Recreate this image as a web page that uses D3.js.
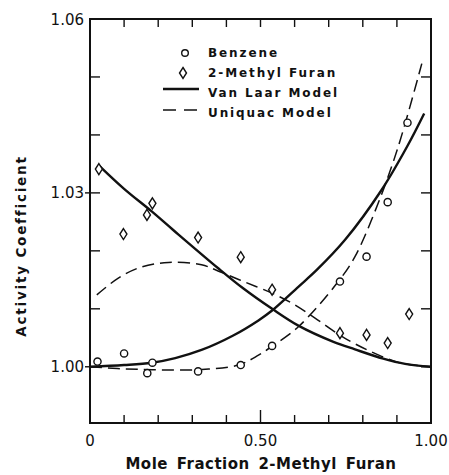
<!DOCTYPE html>
<html>
<head>
<meta charset="utf-8">
<script src="https://cdn.jsdelivr.net/npm/d3@7"></script>
<style>
  html, body { margin: 0; padding: 0; background: #fff; }
  svg { display: block; }
</style>
</head>
<body>
<svg id="chart" width="449" height="475"></svg>
<script>
// ---------- data ----------
const benzeneX = [0.022, 0.100, 0.168, 0.183, 0.317, 0.442, 0.534, 0.733, 0.811, 0.873, 0.931];
const benzeneY = [1.0009, 1.0023, 0.9989, 1.0007, 0.9992, 1.0003, 1.0036, 1.0147, 1.0190, 1.0284, 1.0421];

const furanX = [0.026, 0.098, 0.167, 0.183, 0.317, 0.442, 0.534, 0.733, 0.811, 0.873, 0.936];
const furanY = [1.0341, 1.0229, 1.0262, 1.0282, 1.0223, 1.0189, 1.0133, 1.0058, 1.0055, 1.0041, 1.0091];

// Van Laar model curves
const vlBenzeneX = [0.000, 0.100, 0.181, 0.250, 0.327, 0.420, 0.494, 0.534, 0.611, 0.665, 0.748, 0.855, 0.930, 0.980];
const vlBenzeneY = [1.0000, 1.0003, 1.0007, 1.0015, 1.0029, 1.0054, 1.0080, 1.0097, 1.0138, 1.0167, 1.0219, 1.0305, 1.0380, 1.0437];
const vlFuranX = [0.025, 0.100, 0.181, 0.244, 0.376, 0.450, 0.534, 0.611, 0.714, 0.777, 0.860, 0.924, 1.000];
const vlFuranY = [1.0348, 1.0307, 1.0268, 1.0236, 1.0170, 1.0135, 1.0100, 1.0071, 1.0043, 1.0030, 1.0014, 1.0005, 1.0000];

// UNIQUAC model curves
const uqBenzeneX = [0.000, 0.080, 0.181, 0.318, 0.435, 0.494, 0.533, 0.611, 0.728, 0.777, 0.845, 0.904, 0.973];
const uqBenzeneY = [1.0000, 0.9997, 0.9995, 0.9995, 1.0003, 1.0020, 1.0035, 1.0069, 1.0147, 1.0190, 1.0282, 1.0380, 1.0523];
const uqFuranX = [0.020, 0.083, 0.150, 0.230, 0.327, 0.381, 0.455, 0.534, 0.591, 0.660, 0.748, 0.855, 0.914, 1.000];
const uqFuranY = [1.0124, 1.0153, 1.0172, 1.0180, 1.0176, 1.0164, 1.0146, 1.0127, 1.0110, 1.0084, 1.0049, 1.0018, 1.0006, 1.0000];

const xTicks = [0.1, 0.2, 0.3, 0.4, 0.5, 0.6, 0.7, 0.8, 0.9];
const xTickLabels = [{v: 0, t: "0"}, {v: 0.5, t: "0.50"}, {v: 1.0, t: "1.00"}];
const yTicks = [1.00, 1.01, 1.02, 1.03, 1.04, 1.05];
const yTickLabels = [{v: 1.00, t: "1.00"}, {v: 1.03, t: "1.03"}, {v: 1.06, t: "1.06"}];
const legendLabels = ["Benzene", "2-Methyl Furan", "Van Laar Model", "Uniquac Model"];
const xTitle = "Mole Fraction 2-Methyl Furan";
const yTitle = "Activity Coefficient";
const xDomain = [0, 1];
const yDomain = [0.9903, 1.06];

// ---------- layout ----------
const L = 90, R = 431, T = 19, B = 423;
const svg = d3.select("#chart");
const x = d3.scaleLinear().domain(xDomain).range([L, R]);
const y = d3.scaleLinear().domain(yDomain).range([B, T]);
const ink = "#111";
const fontFam = "'DejaVu Sans', sans-serif";

// frame
svg.append("rect").attr("x", L).attr("y", T).attr("width", R - L).attr("height", B - T)
  .attr("fill", "none").attr("stroke", ink).attr("stroke-width", 2);

// x ticks (inward) bottom and top
const gx = svg.append("g");
gx.selectAll("line.b").data(xTicks).join("line")
  .attr("x1", d => x(d)).attr("x2", d => x(d))
  .attr("y1", B).attr("y2", d => B - (Math.abs(d - 0.5) < 1e-9 ? 13 : 8))
  .attr("stroke", ink).attr("stroke-width", 1.4);
gx.selectAll("line.t").data(xTicks).join("line")
  .attr("x1", d => x(d)).attr("x2", d => x(d))
  .attr("y1", T).attr("y2", T + 8)
  .attr("stroke", ink).attr("stroke-width", 1.4);

// y ticks left and right (inward)
const gy = svg.append("g");
gy.selectAll("line.l").data(yTicks).join("line")
  .attr("x1", d => (yTickLabels.some(l => Math.abs(l.v - d) < 1e-9) ? L - 5 : L)).attr("x2", L + 10)
  .attr("y1", d => y(d)).attr("y2", d => y(d))
  .attr("stroke", ink).attr("stroke-width", 1.4);
gy.selectAll("line.r").data(yTicks).join("line")
  .attr("x1", R).attr("x2", R - 10)
  .attr("y1", d => y(d)).attr("y2", d => y(d))
  .attr("stroke", ink).attr("stroke-width", 1.4);

// tick labels
svg.append("g").selectAll("text").data(xTickLabels).join("text")
  .attr("x", d => x(d.v)).attr("y", 446)
  .attr("text-anchor", "middle")
  .attr("font-family", fontFam).attr("font-size", 15).attr("fill", ink)
  .text(d => d.t);
svg.append("g").selectAll("text").data(yTickLabels).join("text")
  .attr("x", 84).attr("y", d => y(d.v) + 5.5)
  .attr("text-anchor", "end")
  .attr("font-family", fontFam).attr("font-size", 15).attr("fill", ink)
  .text(d => d.t);

// axis titles
svg.append("text")
  .attr("x", 261).attr("y", 469)
  .attr("text-anchor", "middle")
  .attr("font-family", fontFam).attr("font-size", 15).attr("font-weight", "bold")
  .attr("letter-spacing", 0.5).attr("word-spacing", 3).attr("fill", ink)
  .text(xTitle);
svg.append("text")
  .attr("transform", "translate(26,246) rotate(-90)")
  .attr("text-anchor", "middle")
  .attr("font-family", fontFam).attr("font-size", 13.5).attr("font-weight", "bold")
  .attr("letter-spacing", 1.8).attr("fill", ink)
  .text(yTitle);

// curves
const line = d3.line().x(d => x(d[0])).y(d => y(d[1])).curve(d3.curveCatmullRom.alpha(0.5));
const zip = (a, b) => a.map((v, i) => [v, b[i]]);
const g = svg.append("g").attr("fill", "none").attr("stroke", ink);
g.append("path").attr("d", line(zip(vlBenzeneX, vlBenzeneY))).attr("stroke-width", 2.4);
g.append("path").attr("d", line(zip(vlFuranX, vlFuranY))).attr("stroke-width", 2.4);
g.append("path").attr("d", line(zip(uqBenzeneX, uqBenzeneY))).attr("stroke-width", 1.5).attr("stroke-dasharray", "12,6");
g.append("path").attr("d", line(zip(uqFuranX, uqFuranY))).attr("stroke-width", 1.5).attr("stroke-dasharray", "12,6");

// markers
const diamond = (cx, cy) => `M${cx},${cy - 5.5}L${cx + 3.5},${cy}L${cx},${cy + 5.5}L${cx - 3.5},${cy}Z`;
svg.append("g").selectAll("circle").data(zip(benzeneX, benzeneY)).join("circle")
  .attr("cx", d => x(d[0])).attr("cy", d => y(d[1])).attr("r", 3.6)
  .attr("fill", "#fff").attr("stroke", ink).attr("stroke-width", 1.4);
svg.append("g").selectAll("path").data(zip(furanX, furanY)).join("path")
  .attr("d", d => diamond(x(d[0]), y(d[1])))
  .attr("fill", "#fff").attr("stroke", ink).attr("stroke-width", 1.4);

// legend
const lg = svg.append("g");
lg.append("circle").attr("cx", 185).attr("cy", 53).attr("r", 3.3)
  .attr("fill", "#fff").attr("stroke", ink).attr("stroke-width", 1.4);
lg.append("path").attr("d", diamond(183, 73)).attr("fill", "#fff").attr("stroke", ink).attr("stroke-width", 1.4);
lg.append("line").attr("x1", 163).attr("x2", 199).attr("y1", 89).attr("y2", 89).attr("stroke", ink).attr("stroke-width", 2.4);
lg.append("line").attr("x1", 163).attr("x2", 199).attr("y1", 110).attr("y2", 110).attr("stroke", ink).attr("stroke-width", 1.5).attr("stroke-dasharray", "13,8");
lg.selectAll("text").data(legendLabels).join("text")
  .attr("x", 208).attr("y", (d, i) => 57 + i * 20)
  .attr("font-family", fontFam).attr("font-size", 12).attr("font-weight", "bold")
  .attr("letter-spacing", 1.9).attr("fill", ink)
  .text(d => d);
</script>
</body>
</html>
